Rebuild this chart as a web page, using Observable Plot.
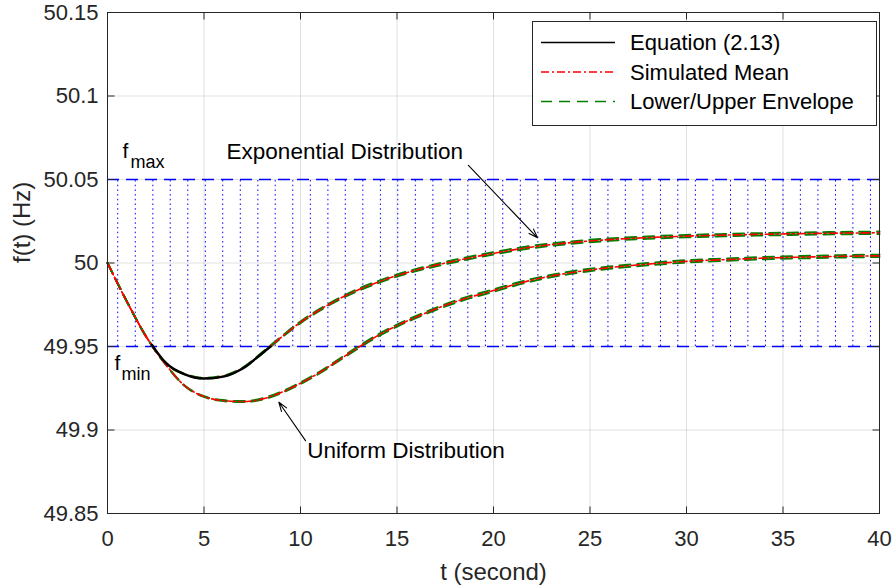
<!DOCTYPE html>
<html>
<head>
<meta charset="utf-8">
<script src="https://cdn.jsdelivr.net/npm/d3@7"></script>
<script src="https://cdn.jsdelivr.net/npm/@observablehq/plot@0.6"></script>
<style>
  html, body { margin: 0; padding: 0; background: #fff; }
  #wrap { position: relative; width: 894px; height: 588px; font-family: "Liberation Sans", Arial, Helvetica, sans-serif; }
  #legend { position: absolute; left: 532px; top: 21px; width: 345px; height: 105px; box-sizing: border-box; border: 1px solid #262626; background: #fff; }
</style>
</head>
<body>
<div id="wrap"><div id="chart"></div><div id="legend"></div></div>
<script>
// ---- data ----
const tVals = [0,1,2,3,4,5,6,7,8,9,10,11,12,13,14,15,16,18,20,22,24,26,28,30,32,34,36,38,40];

// Exponential distribution case (upper recovery curve)
const expMean = [50.000,49.977,49.956,49.940,49.9335,49.931,49.9322,49.937,49.946,49.9555,49.9645,49.972,49.9785,49.984,49.9885,49.9925,49.9958,50.0012,50.0058,50.0096,50.0122,50.0140,50.0152,50.0161,50.0167,50.0172,50.0176,50.0179,50.0181];
const expLow  = [50.000,49.977,49.956,49.9399,49.9333,49.9308,49.9319,49.9367,49.9456,49.9551,49.9640,49.9715,49.9780,49.9834,49.9879,49.9919,49.9952,50.0005,50.0051,50.0089,50.0115,50.0133,50.0145,50.0154,50.0160,50.0165,50.0169,50.0172,50.0174];
const expHigh = [50.000,49.977,49.956,49.9401,49.9337,49.9312,49.9325,49.9373,49.9464,49.9559,49.9650,49.9725,49.9790,49.9846,49.9891,49.9931,49.9964,50.0019,50.0065,50.0103,50.0129,50.0147,50.0159,50.0168,50.0174,50.0179,50.0183,50.0186,50.0188];

// Uniform distribution case (lower recovery curve)
const uniMean = [50.000,49.977,49.956,49.9395,49.9265,49.920,49.9176,49.917,49.9185,49.9225,49.928,49.9345,49.942,49.9495,49.9565,49.9625,49.9677,49.9767,49.9835,49.9898,49.9942,49.9972,49.9993,50.001,50.002,50.0029,50.0035,50.004,50.0043];
const uniLow  = [50.000,49.977,49.956,49.9394,49.9263,49.9198,49.9173,49.9167,49.9181,49.9221,49.9275,49.9340,49.9415,49.9489,49.9559,49.9619,49.9671,49.9760,49.9828,49.9891,49.9935,49.9965,49.9986,50.0003,50.0013,50.0022,50.0028,50.0033,50.0036];
const uniHigh = [50.000,49.977,49.956,49.9396,49.9267,49.9202,49.9179,49.9173,49.9189,49.9229,49.9285,49.9350,49.9425,49.9501,49.9571,49.9631,49.9683,49.9774,49.9842,49.9905,49.9949,49.9979,50.0000,50.0017,50.0027,50.0036,50.0042,50.0047,50.0050];

// Equation (2.13) – visible segment below f_min
const eqT = [2.3,3,4,5,6,7,8,8.45];
const eqF = [49.951,49.9405,49.9333,49.9308,49.932,49.9368,49.9458,49.95];

// frequency limits and dotted band markers
const fMin = 49.95, fMax = 50.05;
const bandT = [0.53,1.44,2.35,3.25,4.16,5.07,5.97,6.88,7.79,8.69,9.60,10.51,11.42,12.32,13.23,14.14,15.04,15.95,16.86,17.76,18.67,19.58,20.48,21.39,22.30,23.21,24.11,25.02,25.93,26.83,27.74,28.65,29.55,30.46,31.37,32.28,33.18,34.09,35.00,35.90,36.81,37.72,38.62,39.53];

// ticks
const xTicks = [0,5,10,15,20,25,30,35,40];
const yTicks = [49.85,49.9,49.95,50,50.05,50.1,50.15];

// annotations
const annoText = ["Exponential Distribution", "Uniform Distribution"];
const annoT = [6.17, 10.35];
const annoF = [50.062, 49.8834];
const arrowT1 = [18.7, 10.26], arrowF1 = [50.0585, 49.8936];
const arrowT2 = [22.28, 8.88], arrowF2 = [50.0151, 49.9166];

// legend
const legendLabels = ["Equation (2.13)", "Simulated Mean", "Lower/Upper Envelope"];
const legendColors = ["#000000", "#ff0000", "#008000"];
const legendDash = ["none", "8,3,2,3", "11,7"];

// ---- build tables ----
const rows = (t, f) => t.map((d, i) => ({t: d, f: f[i]}));
const envLines = [rows(tVals, expLow), rows(tVals, expHigh), rows(tVals, uniLow), rows(tVals, uniHigh)];
const meanLines = [rows(tVals, expMean), rows(tVals, uniMean)];
const eqLine = rows(eqT, eqF);
const annos = annoText.map((s, i) => ({s, t: annoT[i], f: annoF[i]}));
const arrows = arrowT1.map((d, i) => ({t1: d, f1: arrowF1[i], t2: arrowT2[i], f2: arrowF2[i]}));

const font = "'Liberation Sans', Arial, Helvetica, sans-serif";
const axisColor = "#262626";

// inward tick symbols (MATLAB box style)
const tickUp = {draw(c) { c.moveTo(0, 0); c.lineTo(0, -7); }};
const tickDown = {draw(c) { c.moveTo(0, 0); c.lineTo(0, 7); }};
const tickRight = {draw(c) { c.moveTo(0, 0); c.lineTo(7, 0); }};
const tickLeft = {draw(c) { c.moveTo(0, 0); c.lineTo(-7, 0); }};

const marks = [
  Plot.gridX(xTicks, {stroke: "#000", strokeOpacity: 0.12}),
  Plot.gridY(yTicks, {stroke: "#000", strokeOpacity: 0.12}),
  Plot.ruleX(bandT, {x: d => d, y1: () => fMin, y2: () => fMax, stroke: "#0000ff", strokeWidth: 1, strokeDasharray: "1.5,3.2"}),
  Plot.ruleY([fMin, fMax], {y: d => d, stroke: "#0000ff", strokeWidth: 1.5, strokeDasharray: "12,7"}),
];
for (const L of envLines) marks.push(Plot.line(L, {x: "t", y: "f", stroke: "#008000", strokeWidth: 2, strokeDasharray: "11,7", curve: "monotone-x"}));
for (const L of meanLines) marks.push(Plot.line(L, {x: "t", y: "f", stroke: "#ff0000", strokeWidth: 1.6, strokeDasharray: "8,3,2,3", curve: "monotone-x"}));
marks.push(Plot.line(eqLine, {x: "t", y: "f", stroke: "#000", strokeWidth: 2.4, curve: "monotone-x"}));

// f_max / f_min labels
marks.push(
  Plot.text([fMax], {x: () => 0.78, y: d => d, text: () => "f", textAnchor: "start", lineAnchor: "bottom", dy: -22, fontSize: 21, fill: "#000"}),
  Plot.text([fMax], {x: () => 0.78, y: d => d, text: () => "max", textAnchor: "start", lineAnchor: "bottom", dy: -12, dx: 8, fontSize: 18, fill: "#000"}),
  Plot.text([fMin], {x: () => 0.36, y: d => d, text: () => "f", textAnchor: "start", lineAnchor: "bottom", dy: 23, fontSize: 21, fill: "#000"}),
  Plot.text([fMin], {x: () => 0.36, y: d => d, text: () => "min", textAnchor: "start", lineAnchor: "bottom", dy: 33, dx: 7, fontSize: 18, fill: "#000"})
);

// annotations
marks.push(
  Plot.text(annos, {x: "t", y: "f", text: "s", textAnchor: "start", lineAnchor: "bottom", fontSize: 22.5, fill: "#000"}),
  Plot.arrow(arrows, {x1: "t1", y1: "f1", x2: "t2", y2: "f2", stroke: "#000", strokeWidth: 1.1, headLength: 13, headAngle: 38})
);

// axes (MATLAB-style box with inward ticks)
marks.push(
  Plot.frame({stroke: axisColor, strokeWidth: 1}),
  Plot.axisX({ticks: xTicks, anchor: "bottom", tickSize: 0, tickPadding: 17, fontSize: 22, fill: axisColor, label: null, tickFormat: d => String(d)}),
  Plot.axisY({ticks: yTicks, anchor: "left", tickSize: 0, tickPadding: 9, fontSize: 22, fill: axisColor, label: null, tickFormat: d => String(d)}),
  Plot.dot(xTicks, {x: d => d, frameAnchor: "bottom", symbol: tickUp, stroke: axisColor, fill: "none", strokeWidth: 1}),
  Plot.dot(xTicks, {x: d => d, frameAnchor: "top", symbol: tickDown, stroke: axisColor, fill: "none", strokeWidth: 1}),
  Plot.dot(yTicks, {y: d => d, frameAnchor: "left", symbol: tickRight, stroke: axisColor, fill: "none", strokeWidth: 1}),
  Plot.dot(yTicks, {y: d => d, frameAnchor: "right", symbol: tickLeft, stroke: axisColor, fill: "none", strokeWidth: 1}),
  Plot.text(["t (second)"], {frameAnchor: "bottom", dy: 66, fontSize: 24, fill: axisColor}),
  Plot.text(["f(t) (Hz)"], {frameAnchor: "left", dx: -85, rotate: -90, fontSize: 24, fill: axisColor})
);

const chart = Plot.plot({
  width: 894,
  height: 588,
  marginLeft: 107,
  marginRight: 15,
  marginTop: 12,
  marginBottom: 75,
  x: {domain: [0, 40]},
  y: {domain: [49.85, 50.15]},
  style: {fontFamily: font, fontSize: "22px", color: axisColor, background: "#fff", overflow: "visible"},
  marks
});
document.getElementById("chart").appendChild(chart);

// legend overlay
const ns = "http://www.w3.org/2000/svg";
const lg = document.createElementNS(ns, "svg");
lg.setAttribute("width", 343); lg.setAttribute("height", 103);
legendLabels.forEach((lab, i) => {
  const y = 20.5 + i * 29.5;
  const ln = document.createElementNS(ns, "line");
  ln.setAttribute("x1", 8); ln.setAttribute("x2", 82);
  ln.setAttribute("y1", y); ln.setAttribute("y2", y);
  ln.setAttribute("stroke", legendColors[i]);
  ln.setAttribute("stroke-width", i === 0 ? 1.6 : 1.5);
  if (legendDash[i] !== "none") ln.setAttribute("stroke-dasharray", legendDash[i]);
  lg.appendChild(ln);
  const tx = document.createElementNS(ns, "text");
  tx.setAttribute("x", 97); tx.setAttribute("y", y);
  tx.setAttribute("dy", "0.35em");
  tx.setAttribute("font-size", 22);
  tx.setAttribute("font-family", font);
  tx.setAttribute("fill", "#000");
  tx.textContent = lab;
  lg.appendChild(tx);
});
document.getElementById("legend").appendChild(lg);
</script>
</body>
</html>
